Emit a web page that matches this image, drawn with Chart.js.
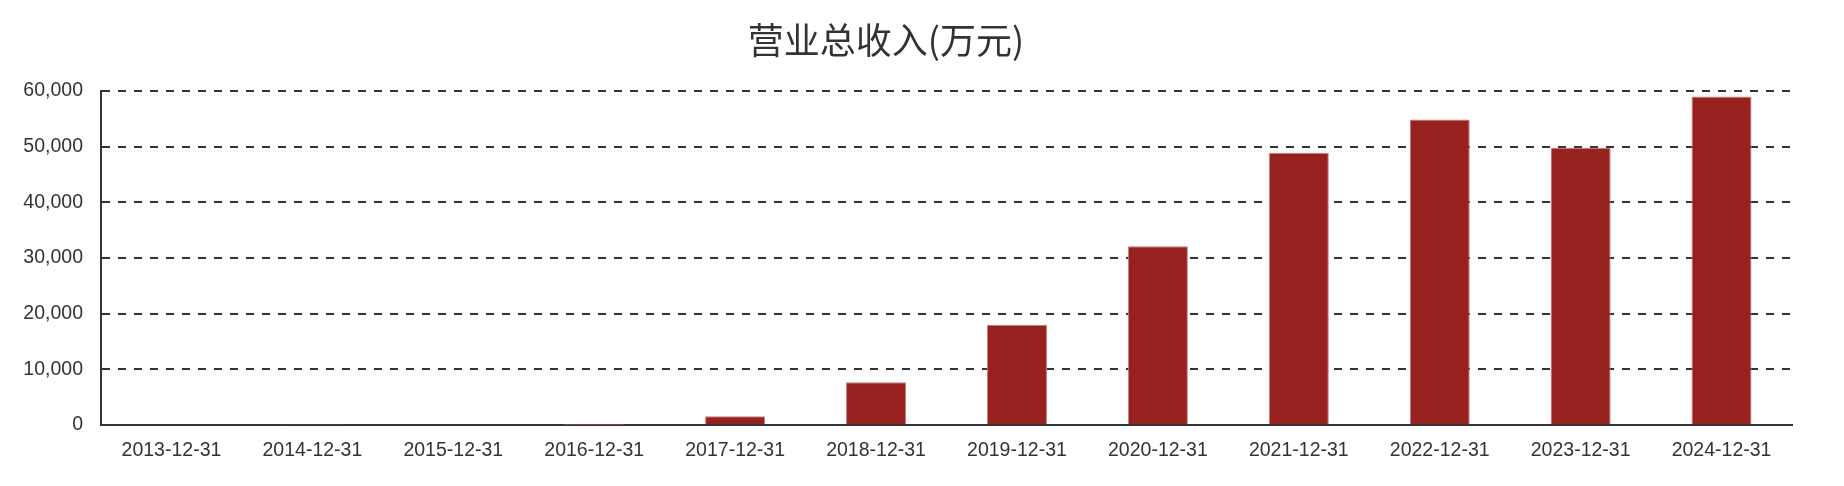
<!DOCTYPE html>
<html>
<head>
<meta charset="utf-8">
<script src="https://cdn.jsdelivr.net/npm/chart.js@4"></script>
<style>
  body { margin: 0; background: #fff; }
  #wrap { width: 1844px; height: 486px; position: relative; }
  #title {
    position: absolute; left: 0; top: 18px; width: 1772px; height: 40px;
    line-height: 40px; text-align: center; color: #333;
    font-family: 'Noto Sans CJK SC', sans-serif; font-size: 36px;
  }
</style>
</head>
<body>
<div id="wrap">
  <div id="title"></div>
  <canvas id="chart"></canvas>
</div>
<script>
const chartTitle = '营业总收入(万元)';
const years = ['2013-12-31', '2014-12-31', '2015-12-31', '2016-12-31', '2017-12-31', '2018-12-31',
               '2019-12-31', '2020-12-31', '2021-12-31', '2022-12-31', '2023-12-31', '2024-12-31'];
const revenue = [180, 90, 150, 60, 1550, 7700, 18000, 32100, 48900, 54900, 49800, 59000];
const yTicks = [0, 10000, 20000, 30000, 40000, 50000, 60000];

const textColor = '#333';
const tickFont = { family: 'Liberation Sans', size: 19.5 };

document.getElementById('title').textContent = chartTitle;

new Chart(document.getElementById('chart'), {
    type: 'bar',
    data: {
        labels: years,
        datasets: [{
            label: chartTitle,
            data: revenue,
            backgroundColor: '#96211f',
            borderColor: '#c97f7c',
            borderWidth: 1,
            barPercentage: 0.426,
            categoryPercentage: 1
        }]
    },
    options: {
        responsive: true,
        maintainAspectRatio: false,
        animation: false,
        layout: { padding: { left: 0, right: 52, top: 91, bottom: 0 } },
        plugins: {
            legend: { display: false },
            tooltip: { enabled: false },
            title: { display: false }
        },
        scales: {
            x: {
                grid: { display: false, drawTicks: false },
                border: { display: true, color: textColor, width: 2 },
                ticks: { color: textColor, font: tickFont, padding: 14, maxRotation: 0, autoSkip: false },
                afterFit: (scale) => { scale.height = 61; }
            },
            y: {
                min: yTicks[0],
                max: yTicks[yTicks.length - 1],
                afterBuildTicks: (scale) => { scale.ticks = yTicks.map(v => ({ value: v })); },
                grid: { color: textColor, lineWidth: 2, drawTicks: false },
                border: { display: true, color: textColor, width: 2, dash: [8, 8] },
                ticks: {
                    color: textColor,
                    font: tickFont,
                    padding: 18,
                    callback: (v) => v.toLocaleString('en-US')
                },
                afterFit: (scale) => { scale.width = 101; }
            }
        }
    }
});
</script>
</body>
</html>
